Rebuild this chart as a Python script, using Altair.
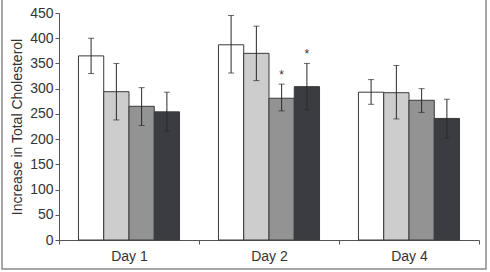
import altair as alt
import pandas as pd

# Mean increase in total cholesterol per day and treatment group, with error bounds
days = ["Day 1", "Day 2", "Day 4"]
groups = ["G1", "G2", "G3", "G4"]
means = [
    [365, 294, 265, 254],
    [387, 370, 281, 304],
    [293, 292, 277, 241],
]
upper = [
    [400, 350, 302, 293],
    [445, 424, 309, 350],
    [318, 346, 300, 279],
]
lower = [
    [330, 238, 227, 216],
    [331, 316, 256, 258],
    [269, 240, 253, 202],
]
# significance markers (day, group)
marks = [("Day 2", "G3"), ("Day 2", "G4")]

colors = ["#ffffff", "#cdcdcd", "#939393", "#3b3c41"]

rows = []
for i, d in enumerate(days):
    for j, g in enumerate(groups):
        rows.append({
            "day": d, "group": g, "mean": means[i][j],
            "hi": upper[i][j], "lo": lower[i][j],
            "star": "*" if (d, g) in marks else "",
        })
df = pd.DataFrame(rows)

FONT = "Liberation Sans"
TXT = "#333333"

x = alt.X("day:N", sort=days, title=None,
          scale=alt.Scale(paddingInner=0, paddingOuter=0),
          axis=alt.Axis(labelAngle=0, tickBand="extent", labelFontSize=14,
                        labelColor=TXT, labelFont=FONT,
                        labelPadding=5, domainColor="#555555", tickColor="#555555",
                        tickSize=4, grid=False))
xo = alt.XOffset("group:N", sort=groups,
                 scale=alt.Scale(paddingInner=0, paddingOuter=0.77))

y_scale = alt.Scale(domain=[0, 450], nice=False)
y_axis = alt.Axis(values=list(range(0, 451, 50)), labelFontSize=14,
                  labelOverlap=False, labelColor=TXT, labelFont=FONT,
                  titleFont=FONT, titleFontSize=14,
                  titleFontWeight="normal", titleColor=TXT,
                  titlePadding=5, domainColor="#555555",
                  tickColor="#555555", tickSize=4, grid=False)
Y_TITLE = "Increase in Total Cholesterol"


def yenc(field):
    return alt.Y(field, title=Y_TITLE, scale=y_scale, axis=y_axis)


base = alt.Chart(df)

bars = base.mark_bar(stroke="#3a3a3a", strokeWidth=1).encode(
    x=x, xOffset=xo, y=yenc("mean:Q"),
    color=alt.Color("group:N", sort=groups,
                    scale=alt.Scale(domain=groups, range=colors), legend=None),
)

err = base.mark_rule(color="#2a2a2a", strokeWidth=1).encode(
    x=x, xOffset=xo, y=yenc("lo:Q"), y2="hi:Q")
cap_hi = base.mark_tick(color="#2a2a2a", thickness=1, size=6, orient="horizontal").encode(
    x=x, xOffset=xo, y=yenc("hi:Q"))
cap_lo = base.mark_tick(color="#2a2a2a", thickness=1, size=6, orient="horizontal").encode(
    x=x, xOffset=xo, y=yenc("lo:Q"))

stars = base.transform_filter(alt.datum.star != "").mark_text(
    baseline="bottom", dy=-2, fontSize=12, color=TXT, font=FONT
).encode(x=x, xOffset=xo, y=yenc("hi:Q"), text="star:N")

# page frame: left, right and bottom edges (top edge sits above the canvas)
frame = alt.Chart(pd.DataFrame({"k": [0]})).mark_rect(
    fill=None, stroke="#8a8a8a", strokeWidth=1.5
).encode(x=alt.value(-57), x2=alt.value(427), y=alt.value(-20), y2=alt.value(256))

chart = alt.layer(bars, err, cap_hi, cap_lo, stars, frame).properties(
    width=420, height=227,
    autosize=alt.AutoSizeParams(type="none"),
    padding={"left": 59, "top": 13, "right": 11, "bottom": 32},
).configure_view(stroke=None)

chart.save("out.html", embed_options={"renderer": "svg", "actions": False})
